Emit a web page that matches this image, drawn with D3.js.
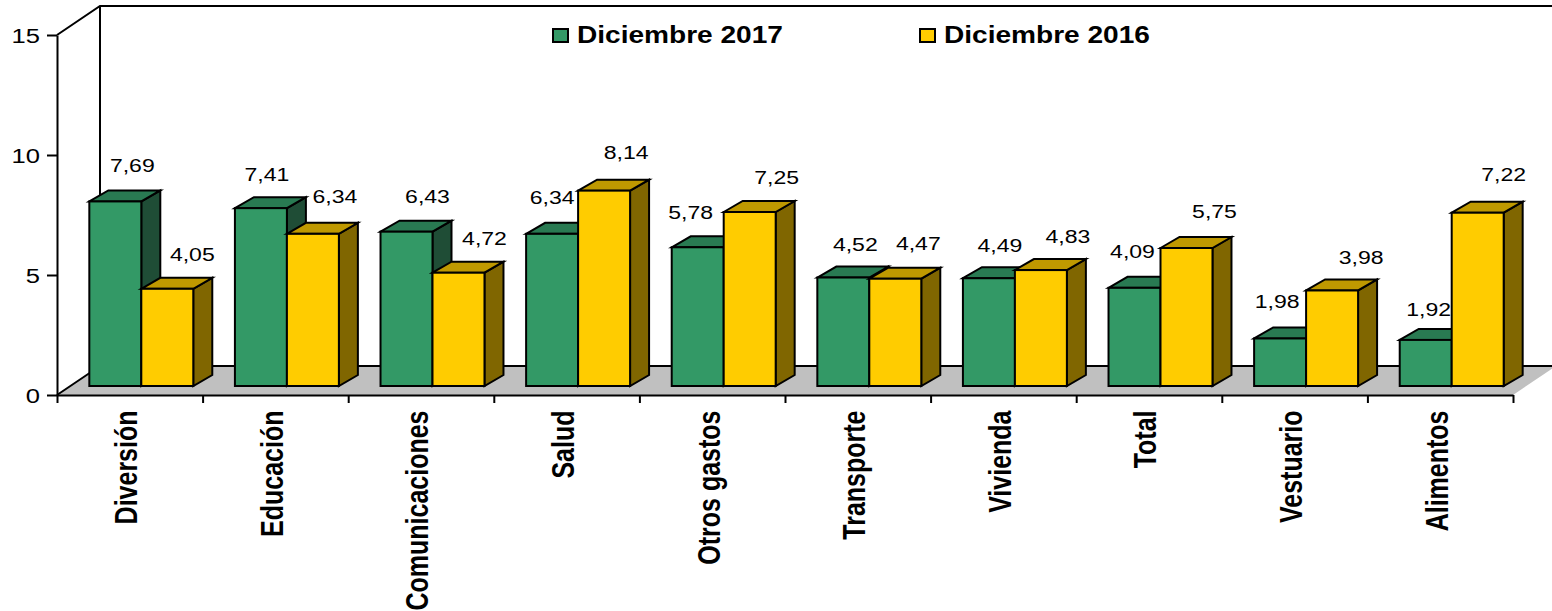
<!DOCTYPE html>
<html lang="es">
<head>
    <meta charset="utf-8">
    <title>Diciembre 2017 / 2016</title>
    <script src="https://d3js.org/d3.v7.min.js" charset="utf-8"></script>
    <style>
        html, body { margin: 0; padding: 0; background: #fff; }
        svg { display: block; }
        text { font-family: "Liberation Sans", Arial, sans-serif; fill: #000; }
        .axis path, .axis line { fill: none; stroke: #000; stroke-width: 2px; }
    </style>
</head>
<body>
<script>
var categories = ["Diversión", "Educación", "Comunicaciones", "Salud", "Otros gastos", "Transporte", "Vivienda", "Total", "Vestuario", "Alimentos"]
var dic2017 = [7.69, 7.41, 6.43, 6.34, 5.78, 4.52, 4.49, 4.09, 1.98, 1.92]
var dic2016 = [4.05, 6.34, 4.72, 8.14, 7.25, 4.47, 4.83, 5.75, 3.98, 7.22]
var seriesNames = ["Diciembre 2017", "Diciembre 2016"]
var yTicks = [0, 5, 10, 15]

var w = 1552, h = 611
var left = 57, right = 1513, top_ = 35, bottom = 395
var wallDx = 43, wallDy = 29      // depth of the floor and back wall
var barDx = 19, barDy = 11        // depth of one bar
var baseDx = 11.5, baseDy = 9     // bars stand a bit behind the front edge
var stretch = 1.28                // the picture is wider than it is tall

var colors = [
    { front: "#339966", top: "#297a52", side: "#1f4d36" },
    { front: "#ffcc00", top: "#bf9900", side: "#806600" }
]

// data labels were moved by hand in the original, [dx, dy] from top centre of the bar
var nudges = [
    [[17, -36], [6, -34], [21, -35], [0, -36], [-7, -35], [12, -33], [11, -33], [-2, -36], [-3, -37], [3, -30]],
    [[25, -34], [22, -37], [26, -34], [22, -38], [27, -34], [23, -35], [27, -34], [28, -36], [29, -33], [26, -38]]
]

var series = [dic2017, dic2016]
var fmt = d3.formatLocale({ decimal: ",", thousands: ".", grouping: [3], currency: ["", ""] }).format(".2f")

var svg = d3.select("body").append("svg").attr("width", w).attr("height", h)

var xScale = d3.scaleBand().domain(categories).range([left, right]).paddingInner(0.286).paddingOuter(0.143)
var xEdges = d3.scaleLinear().domain([0, categories.length]).range([left, right])
var xInner = d3.scaleBand().domain([0, 1]).range([0, xScale.bandwidth()])
var yScale = d3.scaleLinear().domain([0, 15]).range([bottom, top_])

// floor
svg.append("path")
    .attr("d", "M" + left + "," + bottom + "L" + right + "," + bottom + "L" + (right + wallDx) + "," + (bottom - wallDy) + "L" + (left + wallDx) + "," + (bottom - wallDy) + "Z")
    .attr("fill", "#c0c0c0")

// back wall outline
svg.append("path")
    .attr("d", "M" + left + "," + top_ + "L" + (left + wallDx) + "," + (top_ - wallDy) + "L" + w + "," + (top_ - wallDy)
        + "M" + (left + wallDx) + "," + (top_ - wallDy) + "L" + (left + wallDx) + "," + (bottom - wallDy) + "L" + w + "," + (bottom - wallDy)
        + "M" + left + "," + bottom + "L" + (left + wallDx) + "," + (bottom - wallDy))
    .attr("fill", "none").attr("stroke", "#000").attr("stroke-width", 2)

// axes
var yAxis = d3.axisLeft(yScale).tickValues(yTicks).tickSize(10).tickSizeOuter(0)
svg.append("g").attr("class", "axis").attr("transform", "translate(" + left + ",0)").call(yAxis)
    .selectAll("text")
    .attr("x", 0).attr("dy", "0.36em")
    .attr("transform", "translate(-17,0) scale(" + stretch + ",1)")
    .style("font-size", "20px")

var edgeAxis = d3.axisBottom(xEdges).tickValues(d3.range(categories.length + 1)).tickFormat("").tickSize(8).tickSizeOuter(0)
svg.append("g").attr("class", "axis").attr("transform", "translate(0," + bottom + ")").call(edgeAxis)

var xAxis = d3.axisBottom(xScale).tickSize(0)
var xg = svg.append("g").attr("transform", "translate(0," + bottom + ")").call(xAxis)
xg.select(".domain").remove()
xg.selectAll("text")
    .attr("x", 0).attr("y", 0).attr("dy", 0)
    .attr("text-anchor", "end")
    .attr("transform", "translate(7.3,15.5) rotate(-90) scale(1," + stretch + ")")
    .style("font-size", "25px").style("font-weight", "bold")

// bars, one category at a time so the yellow bar covers the green side
categories.forEach(function(cat, i) {
    series.forEach(function(values, s) {
        var x0 = xScale(cat) + xInner(s) + baseDx
        var x1 = x0 + xInner.bandwidth()
        var y0 = yScale(values[i]) - baseDy
        var y1 = yScale(0) - baseDy
        var g = svg.append("g").attr("stroke", "#000").attr("stroke-width", 2).attr("stroke-linejoin", "miter")
        var c = colors[s]
        g.append("path").attr("fill", c.side)
            .attr("d", d3.line()([[x1, y0], [x1 + barDx, y0 - barDy], [x1 + barDx, y1 - barDy], [x1, y1]]) + "Z")
        g.append("path").attr("fill", c.top)
            .attr("d", d3.line()([[x0, y0], [x0 + barDx, y0 - barDy], [x1 + barDx, y0 - barDy], [x1, y0]]) + "Z")
        g.append("rect").attr("fill", c.front)
            .attr("x", x0).attr("y", y0).attr("width", x1 - x0).attr("height", y1 - y0)
    })
})

// data labels
categories.forEach(function(cat, i) {
    series.forEach(function(values, s) {
        var cx = xScale(cat) + xInner(s) + baseDx + xInner.bandwidth() / 2 + nudges[s][i][0]
        var cy = yScale(values[i]) - baseDy + nudges[s][i][1]
        svg.append("text")
            .attr("transform", "translate(" + cx + "," + cy + ") scale(" + stretch + ",1)")
            .attr("text-anchor", "middle").attr("dy", "0.36em")
            .style("font-size", "18px")
            .text(fmt(values[i]))
    })
})

// legend
var legendX = d3.scalePoint().domain(seriesNames).range([552, 919])
seriesNames.forEach(function(name, s) {
    var lx = legendX(name)
    svg.append("rect").attr("x", lx + 1).attr("y", 29).attr("width", 15).attr("height", 13)
        .attr("fill", colors[s].front).attr("stroke", "#000").attr("stroke-width", 2)
    svg.append("text")
        .attr("transform", "translate(" + (lx + 25) + ",43) scale(1.2,1)")
        .style("font-size", "23.4px").style("font-weight", "bold")
        .text(name)
})
</script>
</body>
</html>
